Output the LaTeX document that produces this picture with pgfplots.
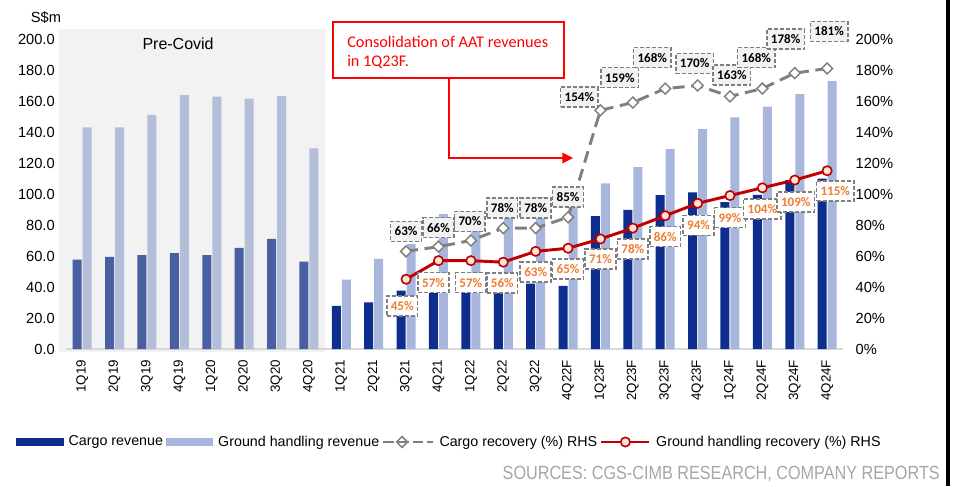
\documentclass[border=0pt]{standalone}
\usepackage{fontspec}
\setmainfont{Liberation Sans}
\newfontfamily\carlito{Carlito}
\newfontfamily\narrowsans[FakeStretch=0.85]{Liberation Sans}
\usepackage{pgfplots}
\usepackage{pgfplotstable}
\pgfplotsset{compat=1.18}
\usetikzlibrary{arrows.meta}

\definecolor{cargoblue}{HTML}{0D2E8C}
\definecolor{groundblue}{HTML}{A8B5DC}
\definecolor{precovid}{HTML}{D3D3D3}
\definecolor{linegrey}{HTML}{7F7F7F}
\definecolor{redline}{HTML}{C00000}
\definecolor{circfill}{HTML}{FBE5D6}
\definecolor{lblorange}{HTML}{ED7D31}
\definecolor{lblfill}{HTML}{F2F2F2}
\definecolor{axisgrey}{HTML}{D9D9D9}
\definecolor{srcgrey}{HTML}{A6A6A6}
\definecolor{annored}{HTML}{FF0000}

% quarterly revenue, S$m
\pgfplotstableread{
x cargo ground
0  57.7 143.0
1  59.4 143.0
2  60.5 151.0
3  61.8 163.8
4  60.5 162.8
5  65.2 161.5
6  71.0 163.2
7  56.4 129.4
8  27.8  44.8
9  30.1  58.1
10 37.7  67.6
11 36.8  87.0
12 37.5  80.0
13 36.0  85.0
14 42.2  98.0
15 40.7  99.0
16 85.7 106.8
17 89.8 117.3
18 99.2 129.0
19 101.0 141.9
20 94.8 149.4
21 99.4 156.3
22 109.0 164.5
23 110.0 172.9
}\revenue

% recovery (%), lx/ly = where the value label sits
\pgfplotstableread{
x y lx ly
10 63 10.00 75.9
11 66 11.00 78.3
12 70 11.97 82.3
13 78 12.97 90.9
14 78 14.00 90.9
15 85 15.00 97.9
16 154 15.35 162.4
17 159 16.60 175.1
18 168 17.60 188.0
19 170 18.91 184.2
20 163 20.06 176.6
21 168 20.81 188.0
22 178 21.72 199.9
23 181 23.06 204.9
}\cargorec

\pgfplotstableread{
x y lx ly
10 45 9.88 27.6
11 57 10.85 42.8
12 57 12.00 42.8
13 56 12.97 42.5
14 63 14.00 49.5
15 65 15.00 51.5
16 71 16.00 58.1
17 78 17.00 64.5
18 86 18.00 72.5
19 94 19.03 79.8
20 99 20.00 84.8
21 104 21.00 90.5
22 109 22.03 94.8
23 115 23.25 102.1
}\groundrec

\tikzset{
  lbl/.style={line width=1.2pt, dash pattern=on 3pt off 1.5pt, draw=linegrey,
    font=\carlito\bfseries\fontsize{9.8}{11}\selectfont,
    inner xsep=3pt, inner ysep=2pt, minimum height=15pt, anchor=center},
}
\pgfplotsset{
  base/.style={
    at={(49.5pt,102.75pt)}, anchor=south west,
    scale only axis, width=583pt, height=232.5pt,
    xmin=-0.5, xmax=23.5, ymin=0, ymax=200,
    ytick={0,20,...,200}, major tick length=0pt,
    /pgf/number format/assume math mode=true,
    clip=false,
  },
  pctlabels/.style={only marks, mark=none, forget plot,
    point meta=explicit,
    nodes near coords={\pgfmathprintnumber[fixed,precision=0]{\pgfplotspointmeta}\%},
    nodes near coords align=center,
    every node near coord/.append style={lbl, #1}},
  cargoline/.style={linegrey, line width=2.2pt, dash pattern=on 9pt off 5pt,
    mark=square*, mark size=2.9pt,
    mark options={solid, rotate=45, fill=white, draw=linegrey, line width=1.1pt}},
  groundline/.style={redline, line width=2.2pt,
    mark=*, mark size=3.5pt,
    mark options={fill=circfill, draw=redline, line width=1.2pt}},
  cargolegend/.style={legend image code/.code={
    \draw[mark repeat=2, mark phase=2, ##1] plot coordinates {(0pt,0pt) (14pt,0pt) (28pt,0pt)};
    \path (0pt,0pt) -- (37pt,0pt);}},
  groundlegend/.style={legend image code/.code={
    \draw[mark repeat=2, mark phase=2, ##1] plot coordinates {(0pt,0pt) (18pt,0pt) (36pt,0pt)};}},
  barlegend/.style={legend image code/.code={
    \fill[##1] (0pt,-2.6pt) rectangle (35pt,2.6pt);}},
}

\begin{document}
\begin{tikzpicture}
\begin{scope}[shift={(0pt,364.5pt)}, x=0.75pt, y=-0.75pt]
\path[use as bounding box] (0,0) rectangle (957,486);
\end{scope}

\begin{axis}[base,
  ybar=0.75pt, bar width=6.75pt,
  axis x line*=bottom, axis y line*=left,
  y axis line style={draw=none},
  x axis line style={draw=axisgrey, line width=1.1pt},
  xtick={0,...,23},
  xticklabels={1Q19,2Q19,3Q19,4Q19,1Q20,2Q20,3Q20,4Q20,1Q21,2Q21,3Q21,4Q21,
    1Q22,2Q22,3Q22,4Q22F,1Q23F,2Q23F,3Q23F,4Q23F,1Q24F,2Q24F,3Q24F,4Q24F},
  xticklabel style={rotate=90, anchor=east, inner xsep=8pt,
    font=\fontsize{10}{12}\selectfont},
  yticklabel style={/pgf/number format/fixed, /pgf/number format/fixed zerofill,
    /pgf/number format/precision=1, anchor=east, inner xsep=8.25pt,
    font=\fontsize{11}{13}\selectfont},
]
\addplot[fill=cargoblue, draw=none] table[x=x, y=cargo]{\revenue};
\addplot[fill=groundblue, draw=none] table[x=x, y=ground]{\revenue};
\fill[precovid, opacity=0.3] (axis cs:-0.71,-1.9) rectangle (axis cs:7.5,206.5);
\node[font=\fontsize{12}{14}\selectfont] at (axis cs:2.96,196.8) {Pre-Covid};
\end{axis}

\begin{axis}[base,
  axis x line=none, axis y line*=right,
  y axis line style={draw=none},
  yticklabel={\pgfmathprintnumber{\tick}\%},
  yticklabel style={anchor=west, inner xsep=9pt, font=\fontsize{11}{13}\selectfont},
  legend columns=4,
  legend cell align=left,
  legend style={at={(0.4936,-0.3)}, anchor=center, draw=none, fill=none,
    font=\fontsize{10.7}{12}\selectfont,
    /tikz/every odd column/.append style={column sep=2pt}},
]
\addplot[cargoline, forget plot] table[x=x, y=y]{\cargorec};
\addplot[groundline, forget plot] table[x=x, y=y]{\groundrec};

\addplot[pctlabels={fill=lblfill, text=black}] table[x=lx, y=ly, meta=y]{\cargorec};
\addplot[pctlabels={fill=white, text=lblorange}] table[x=lx, y=ly, meta=y]{\groundrec};

\addlegendimage{cargoblue, barlegend}
\addlegendentry{Cargo revenue}
\addlegendimage{groundblue, barlegend}
\addlegendentry{Ground handling revenue}
\addlegendimage{cargoline, dash pattern=on 8pt off 3pt, cargolegend}
\addlegendentry{Cargo recovery (\%) RHS}
\addlegendimage{groundline, groundlegend}
\addlegendentry{Ground handling recovery (\%) RHS}
\end{axis}

\begin{scope}[shift={(0pt,364.5pt)}, x=0.75pt, y=-0.75pt]
\node[font=\fontsize{11}{13}\selectfont] at (46,18) {S\$m};
\draw[annored, line width=1.1pt, fill=white] (333,22) rectangle (564,78);
\node[anchor=west, text=annored, font=\carlito\fontsize{12.2}{14}\selectfont, inner sep=0pt] at (347,42) {Consolidation of AAT revenues};
\node[anchor=west, text=annored, font=\carlito\fontsize{12.2}{14}\selectfont, inner sep=0pt] at (347,62) {in 1Q23F.};
\draw[annored, line width=0.8pt, -{Triangle[length=8pt, width=8pt]}] (449,78) -- (449,158) -- (573,158);
\node[anchor=east, text=srcgrey, font=\narrowsans\fontsize{14.3}{16}\selectfont, inner sep=0pt] at (940,474) {SOURCES: CGS-CIMB RESEARCH, COMPANY REPORTS};
\fill[black] (946,0) rectangle (950,486);
\end{scope}
\end{tikzpicture}
\end{document}
